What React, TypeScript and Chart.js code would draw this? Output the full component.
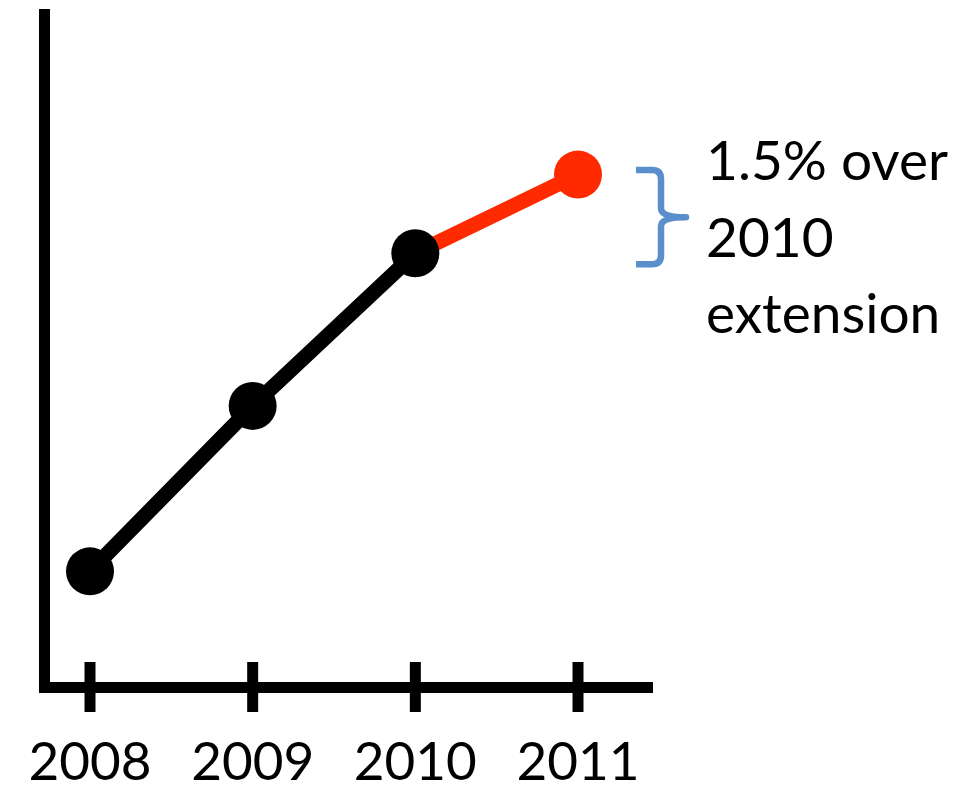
import React, { useEffect, useRef } from "react";
import { Chart, registerables } from "chart.js";

Chart.register(...registerables);

// ---- data ----
const years = [2008, 2009, 2010, 2011];
const values = [17.2, 41.8, 64.5, 76.2];
const tickYears = [2008, 2009, 2010, 2011];
const pointColors = ["#000000", "#000000", "#000000", "#ff2a00"];
const segmentColors = ["#000000", "#000000", "#ff2a00"];
const noteLines = ["1.5% over", "2010", "extension"];

const FONT = "Lato, 'Open Sans', sans-serif";

const overlayPlugin = {
  id: "overlay",
  afterDraw(chart: any) {
    const { ctx, chartArea } = chart;
    const xs = chart.scales.x;
    const ys = chart.scales.y;
    ctx.save();
    // tick marks crossing the x axis
    ctx.strokeStyle = "#000";
    ctx.lineWidth = 11;
    ctx.lineCap = "butt";
    tickYears.forEach((yr) => {
      const px = xs.getPixelForValue(yr);
      ctx.beginPath();
      ctx.moveTo(px, chartArea.bottom - 25);
      ctx.lineTo(px, chartArea.bottom + 25);
      ctx.stroke();
    });

    // brace between 2010 and 2011 values
    const xLast = xs.getPixelForValue(years[3]);
    const yTop = ys.getPixelForValue(values[3]) - 4.5;
    const yBot = ys.getPixelForValue(values[2]) + 11;
    const yMid = (yTop + yBot) / 2;
    const bx0 = xLast + 58;
    const bx1 = bx0 + 25;
    const tip = bx0 + 50;
    ctx.strokeStyle = "#5b8fcb";
    ctx.lineWidth = 6.5;
    ctx.lineJoin = "round";
    ctx.beginPath();
    ctx.moveTo(bx0, yTop);
    ctx.lineTo(bx1 - 9, yTop);
    ctx.quadraticCurveTo(bx1, yTop, bx1, yTop + 9);
    ctx.lineTo(bx1, yMid - 9);
    ctx.quadraticCurveTo(bx1, yMid, tip, yMid);
    ctx.quadraticCurveTo(bx1, yMid, bx1, yMid + 9);
    ctx.lineTo(bx1, yBot - 9);
    ctx.quadraticCurveTo(bx1, yBot, bx1 - 9, yBot);
    ctx.lineTo(bx0, yBot);
    ctx.stroke();

    // annotation text
    ctx.fillStyle = "#000";
    ctx.font = `55px ${FONT}`;
    ctx.textAlign = "left";
    ctx.textBaseline = "alphabetic";
    const tx = xLast + 128;
    const ty0 = ys.getPixelForValue(values[3]) + 5.5;
    noteLines.forEach((line, i) => {
      ctx.fillText(line, tx, ty0 + i * 76.5);
    });
    ctx.restore();
  },
};

export default function App() {
  const canvasRef = useRef<HTMLCanvasElement | null>(null);

  useEffect(() => {
    if (!canvasRef.current) return;
    const chart = new Chart(canvasRef.current, {
      type: "line",
      data: {
        datasets: [
          {
            data: years.map((yr, i) => ({ x: yr, y: values[i] })),
            borderWidth: 15,
            borderColor: "#000",
            segment: {
              borderColor: (c: any) => segmentColors[c.p0DataIndex],
            },
            pointRadius: 24,
            pointHoverRadius: 24,
            pointBorderWidth: 0,
            pointBackgroundColor: pointColors,
            pointBorderColor: pointColors,
            tension: 0,
            fill: false,
            clip: false as any,
          },
        ],
      },
      options: {
        animation: false,
        responsive: true,
        maintainAspectRatio: false,
        layout: { autoPadding: false, padding: { left: 44, right: 320, top: 14.5, bottom: 0 } },
        plugins: {
          legend: { display: false },
          tooltip: { enabled: false },
          title: { display: false },
        },
        events: [],
        scales: {
          x: {
            type: "linear",
            position: "bottom",
            min: 2007.7172,
            max: 2011.4549,
            afterBuildTicks: (s: any) => {
              s.ticks = tickYears.map((v) => ({ value: v }));
            },
            afterFit: (s: any) => {
              s.height = 102;
            },
            ticks: {
              callback: (v: any) => String(v),
              font: { family: FONT, size: 53 },
              color: "#000",
              padding: 0,
              maxRotation: 0,
              autoSkip: false,
            },
            grid: { display: false, drawTicks: true, tickLength: 44 },
            border: { display: true, color: "#000", width: 11 },
          },
          y: {
            type: "linear",
            min: 0,
            max: 100,
            ticks: { display: false },
            grid: { display: false, drawTicks: false },
            border: { display: true, color: "#000", width: 11 },
          },
        },
      },
      plugins: [overlayPlugin],
    });
    return () => chart.destroy();
  }, []);

  return (
    <div style={{ position: "absolute", left: 0, top: 0, width: 972, height: 789, background: "#fff" }}>
      <canvas ref={canvasRef} />
    </div>
  );
}
